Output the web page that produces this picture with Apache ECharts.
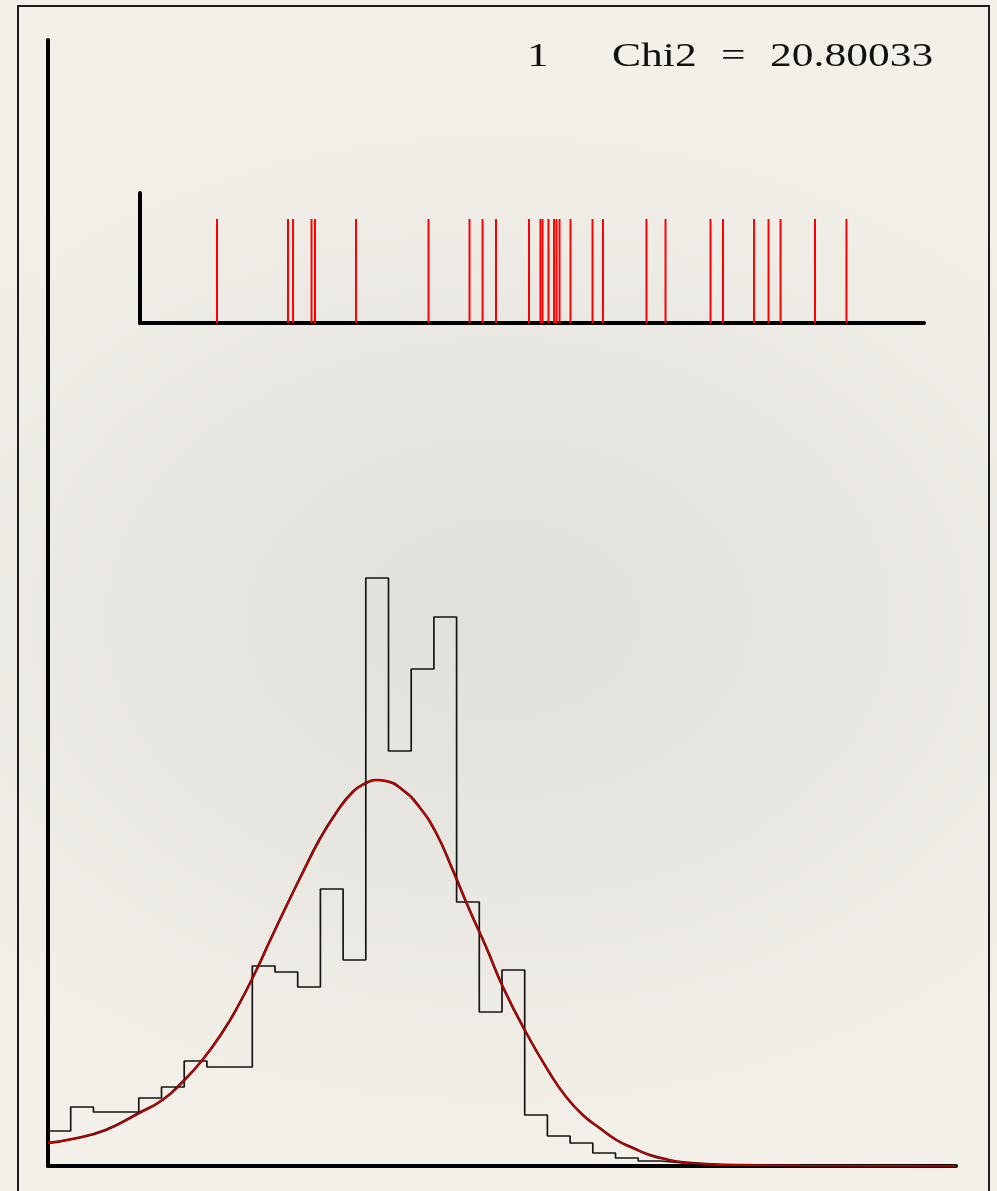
<!DOCTYPE html>
<html>
<head>
<meta charset="utf-8">
<title>Chi2 fit</title>
<script src="https://cdn.jsdelivr.net/npm/echarts@6/dist/echarts.min.js"></script>
<style>
  html, body {
    margin: 0;
    padding: 0;
    width: 997px;
    height: 1191px;
    overflow: hidden;
    background: radial-gradient(ellipse 75% 45% at 50% 52%, #e2e0db 0%, #e8e6e1 45%, #f0ede7 80%, #f3f0ea 100%);
  }
  #chart {
    width: 997px;
    height: 1191px;
  }
</style>
</head>
<body>
<div id="chart"></div>
<script>
// histogram bin contents (40 equal bins over the main x range 0..40)
const histValues = [
  3.5, 5.9, 5.4, 5.4, 6.8, 7.9, 10.5, 9.9, 9.9, 20.0,
  19.4, 17.9, 27.7, 20.6, 58.8, 41.5, 49.7, 54.9, 26.4, 15.4,
  19.6, 5.1, 3.0, 2.3, 1.3, 0.8, 0.5, 0.3, 0.2, 0.1,
  0.1, 0.05, 0.05, 0, 0, 0, 0, 0, 0, 0
]

// fitted curve, read point by point
const fitX = [0, 1.07, 2.54, 4.01, 5.04, 5.92, 6.8, 7.69, 8.42, 9.16, 9.75, 10.48, 11.21, 11.95, 12.69, 13.42, 14.01, 14.45, 14.89, 15.63, 16.36, 17.1, 17.83, 18.57, 19.3, 20.04, 21.07, 22.1, 22.83, 23.56, 24.3, 25.04, 25.77, 26.51, 27.24, 27.97, 29.0, 30.2, 33.1, 40]
const fitY = [2.3, 2.7, 3.6, 5.3, 6.6, 8.4, 10.6, 13.4, 16.2, 19.5, 22.4, 25.9, 29.3, 32.6, 35.3, 37.4, 38.3, 38.6, 38.5, 37.6, 35.9, 33.3, 29.6, 25.6, 21.9, 17.9, 13.3, 9.3, 6.9, 5.1, 3.8, 2.6, 1.8, 1.1, 0.67, 0.37, 0.2, 0.1, 0.05, 0.0]

// individual entries shown in the small inset (inset axis 0..100)
const rugX = [9.82, 18.88, 19.52, 21.88, 22.32, 27.55, 36.8, 42.03, 43.69, 45.41, 49.62, 51.08, 51.34, 52.1, 52.81, 53.12, 53.51, 54.91, 57.72, 59.06, 64.6, 67.03, 72.77, 74.36, 78.32, 80.17, 81.7, 86.1, 90.11]
const rugHeight = 0.8

const chiLabel = ['1', 'Chi2', '=', '20.80033']

const chart = echarts.init(document.getElementById('chart'))

const histData = histValues.map((v, i) => [i, v])
histData.push([histValues.length, histValues[histValues.length - 1]])

const fitData = fitX.map((x, i) => [x, fitY[i]])
const rugData = rugX.map(x => [x, rugHeight])

const bareAxis = (gridIndex, min, max) => ({
  type: 'value',
  gridIndex,
  min,
  max,
  axisTick: { show: false },
  axisLabel: { show: false },
  splitLine: { show: false },
  axisLine: { show: true, lineStyle: { color: '#000', width: 4 } }
})

const labelText = (text, x) => ({
  type: 'text',
  x,
  y: 57,
  scaleX: 1.28,
  style: {
    text,
    font: '34px "Liberation Serif", "DejaVu Serif", serif',
    fill: '#111',
    verticalAlign: 'middle'
  }
})

chart.setOption({
  animation: false,
  backgroundColor: 'transparent',
  grid: [
    { left: 48, right: 41, top: 40, bottom: 25 },
    { left: 140, right: 73, top: 193, bottom: 868 }
  ],
  xAxis: [bareAxis(0, 0, 40), bareAxis(1, 0, 100)],
  yAxis: [bareAxis(0, 0, 112.6), bareAxis(1, 0, 1)],
  graphic: [
    {
      type: 'rect',
      shape: { x: 18, y: 6, width: 971, height: 1200 },
      style: { fill: 'none', stroke: '#1c1c1c', lineWidth: 2 }
    },
    labelText(chiLabel[0], 527),
    labelText(chiLabel[1], 612),
    labelText(chiLabel[2], 721),
    labelText(chiLabel[3], 770)
  ],
  series: [
    {
      type: 'line',
      xAxisIndex: 0,
      yAxisIndex: 0,
      step: 'end',
      symbol: 'none',
      data: histData,
      lineStyle: { color: '#151515', width: 1.7 },
      z: 3
    },
    {
      // dark edge under the fit line
      type: 'line',
      xAxisIndex: 0,
      yAxisIndex: 0,
      smooth: 0.5,
      symbol: 'none',
      data: fitData,
      lineStyle: { color: '#3a0000', width: 2.6 },
      z: 4
    },
    {
      type: 'line',
      xAxisIndex: 0,
      yAxisIndex: 0,
      smooth: 0.5,
      symbol: 'none',
      data: fitData,
      lineStyle: { color: '#e00000', width: 1.3 },
      z: 5
    },
    {
      type: 'bar',
      xAxisIndex: 1,
      yAxisIndex: 1,
      barWidth: 2,
      data: rugData,
      itemStyle: { color: '#ff0000' },
      z: 3
    }
  ]
})
</script>
</body>
</html>
